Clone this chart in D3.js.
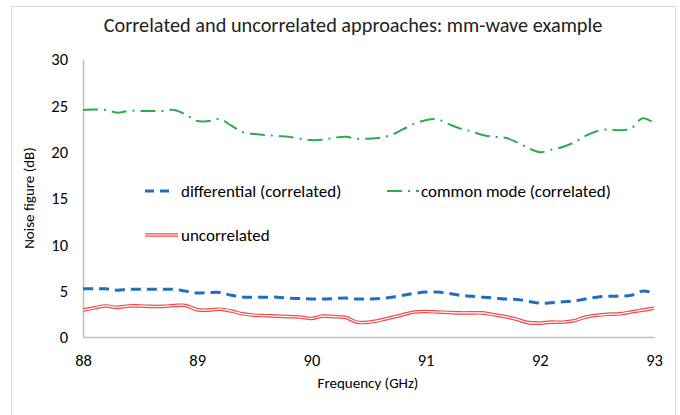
<!DOCTYPE html>
<html lang="en">
<head>
<meta charset="UTF-8">
<title>mm-wave example</title>
<script src="https://cdn.jsdelivr.net/npm/d3@7"></script>
<style>
  body { margin: 0; background: #fff; }
  text { font-family: Carlito, "Liberation Sans", sans-serif; fill: #000; }
</style>
</head>
<body>
<svg width="680" height="415" id="mainsvg"></svg>
<script>
  // frequencies 88.0 .. 93.0 GHz in 0.1 steps
  const freq = [88.0, 88.1, 88.2, 88.3, 88.4, 88.5, 88.6, 88.7, 88.8, 88.9,
    89.0, 89.1, 89.2, 89.3, 89.4, 89.5, 89.6, 89.7, 89.8, 89.9,
    90.0, 90.1, 90.2, 90.3, 90.4, 90.5, 90.6, 90.7, 90.8, 90.9,
    91.0, 91.1, 91.2, 91.3, 91.4, 91.5, 91.6, 91.7, 91.8, 91.9,
    92.0, 92.1, 92.2, 92.3, 92.4, 92.5, 92.6, 92.7, 92.8, 92.9, 93.0]

  const differential = [5.2, 5.2, 5.2, 5.05, 5.15, 5.15, 5.15, 5.15, 5.15, 4.95,
    4.75, 4.8, 4.8, 4.5, 4.3, 4.3, 4.3, 4.3, 4.2, 4.15,
    4.1, 4.1, 4.15, 4.2, 4.1, 4.1, 4.15, 4.3, 4.5, 4.7,
    4.85, 4.85, 4.7, 4.5, 4.4, 4.3, 4.2, 4.1, 4.05, 3.85,
    3.65, 3.7, 3.8, 3.9, 4.1, 4.3, 4.4, 4.4, 4.5, 4.95, 4.75]

  const commonMode = [24.5, 24.55, 24.5, 24.2, 24.4, 24.4, 24.4, 24.4, 24.5, 24.0,
    23.3, 23.3, 23.5, 22.8, 22.1, 21.9, 21.8, 21.7, 21.6, 21.4,
    21.25, 21.3, 21.5, 21.6, 21.4, 21.4, 21.5, 21.8, 22.4, 23.0,
    23.4, 23.5, 23.0, 22.5, 22.2, 21.8, 21.6, 21.5, 21.0, 20.4,
    19.95, 20.2, 20.5, 21.0, 21.7, 22.2, 22.4, 22.3, 22.5, 23.6, 23.1]

  const uncorrelated = [2.9, 3.15, 3.35, 3.2, 3.35, 3.35, 3.3, 3.3, 3.4, 3.4,
    2.95, 2.9, 3.0, 2.8, 2.5, 2.35, 2.3, 2.25, 2.2, 2.15,
    2.0, 2.25, 2.2, 2.1, 1.6, 1.6, 1.8, 2.1, 2.4, 2.7,
    2.75, 2.7, 2.65, 2.6, 2.6, 2.6, 2.4, 2.2, 1.9, 1.55,
    1.5, 1.6, 1.6, 1.75, 2.15, 2.35, 2.45, 2.5, 2.7, 2.9, 3.1]

  const xTicks = [88, 89, 90, 91, 92, 93]
  const yTicks = [0, 5, 10, 15, 20, 25, 30]

  const svg = d3.select('#mainsvg')
  const margin = { top: 59, left: 83, right: 26, bottom: 78 }
  const width = +svg.attr('width')
  const height = +svg.attr('height')
  const innerWidth = width - margin.left - margin.right
  const innerHeight = height - margin.top - margin.bottom

  // outer chart border (bottom edge lies below the picture)
  svg.append('path').attr('d', 'M11.5,415V6.5H675.5V415')
    .attr('fill', 'none').attr('stroke', '#d9d9d9')

  svg.append('text').text('Correlated and uncorrelated approaches: mm-wave example')
    .attr('x', 353).attr('y', 32).attr('text-anchor', 'middle')
    .attr('font-size', '20.3px').style('fill', '#222')

  const g = svg.append('g').attr('transform', `translate(${margin.left},${margin.top})`)

  const xScale = d3.scaleLinear().domain([88, 93]).range([0, innerWidth])
  const yScale = d3.scaleLinear().domain([0, 30]).range([innerHeight, 0])

  const xAxis = d3.axisBottom(xScale).tickValues(xTicks).tickSize(0).tickPadding(17)
    .tickFormat(d3.format('d'))
  const yAxis = d3.axisLeft(yScale).tickValues(yTicks).tickSize(0).tickPadding(15)

  const gx = g.append('g').attr('transform', `translate(0,${innerHeight})`).call(xAxis)
  const gy = g.append('g').call(yAxis)
  g.selectAll('.domain').attr('stroke', '#bfbfbf').attr('stroke-width', 1.5)
  g.selectAll('.tick text').attr('font-size', '16.5px')
    .style('font-family', 'Carlito, "Liberation Sans", sans-serif')
  gy.selectAll('.tick text').attr('dy', '0.35em')

  svg.append('text').text('Frequency (GHz)')
    .attr('x', 368).attr('y', 388).attr('text-anchor', 'middle').attr('font-size', '15px')
  svg.append('text').text('Noise figure (dB)')
    .attr('transform', 'translate(34,198) rotate(-90)')
    .attr('text-anchor', 'middle').attr('font-size', '15px')

  const line = vals => d3.line()
    .x((d, i) => xScale(freq[i]))
    .y(d => yScale(d))
    .curve(d3.curveCatmullRom.alpha(0.5))(vals)

  // uncorrelated: double red line
  g.append('path').attr('d', line(uncorrelated)).attr('fill', 'none')
    .attr('stroke', '#f04a4a').attr('stroke-width', 3.6)
  g.append('path').attr('d', line(uncorrelated)).attr('fill', 'none')
    .attr('stroke', '#fff').attr('stroke-width', 1.2)

  g.append('path').attr('d', line(differential)).attr('fill', 'none')
    .attr('stroke', '#1f6fbf').attr('stroke-width', 3)
    .attr('stroke-dasharray', '10,6')

  g.append('path').attr('d', line(commonMode)).attr('fill', 'none')
    .attr('stroke', '#2eaa52').attr('stroke-width', 2)
    .attr('stroke-dasharray', '15,6,2,6')

  // legend
  const legend = svg.append('g')
  legend.append('line').attr('x1', 145).attr('x2', 174).attr('y1', 191).attr('y2', 191)
    .attr('stroke', '#1f6fbf').attr('stroke-width', 3).attr('stroke-dasharray', '9,6')
  legend.append('text').text('differential (correlated)')
    .attr('x', 181).attr('y', 197).attr('font-size', '17px')

  legend.append('line').attr('x1', 387).attr('x2', 419).attr('y1', 191).attr('y2', 191)
    .attr('stroke', '#2eaa52').attr('stroke-width', 2).attr('stroke-dasharray', '15,6,2,6')
  legend.append('text').text('common mode (correlated)')
    .attr('x', 421).attr('y', 197).attr('font-size', '17px')

  legend.append('line').attr('x1', 145).attr('x2', 178).attr('y1', 235).attr('y2', 235)
    .attr('stroke', '#f04a4a').attr('stroke-width', 3.6)
  legend.append('line').attr('x1', 145).attr('x2', 178).attr('y1', 235).attr('y2', 235)
    .attr('stroke', '#fff').attr('stroke-width', 1.2)
  legend.append('text').text('uncorrelated')
    .attr('x', 181).attr('y', 241).attr('font-size', '17px')
</script>
</body>
</html>
